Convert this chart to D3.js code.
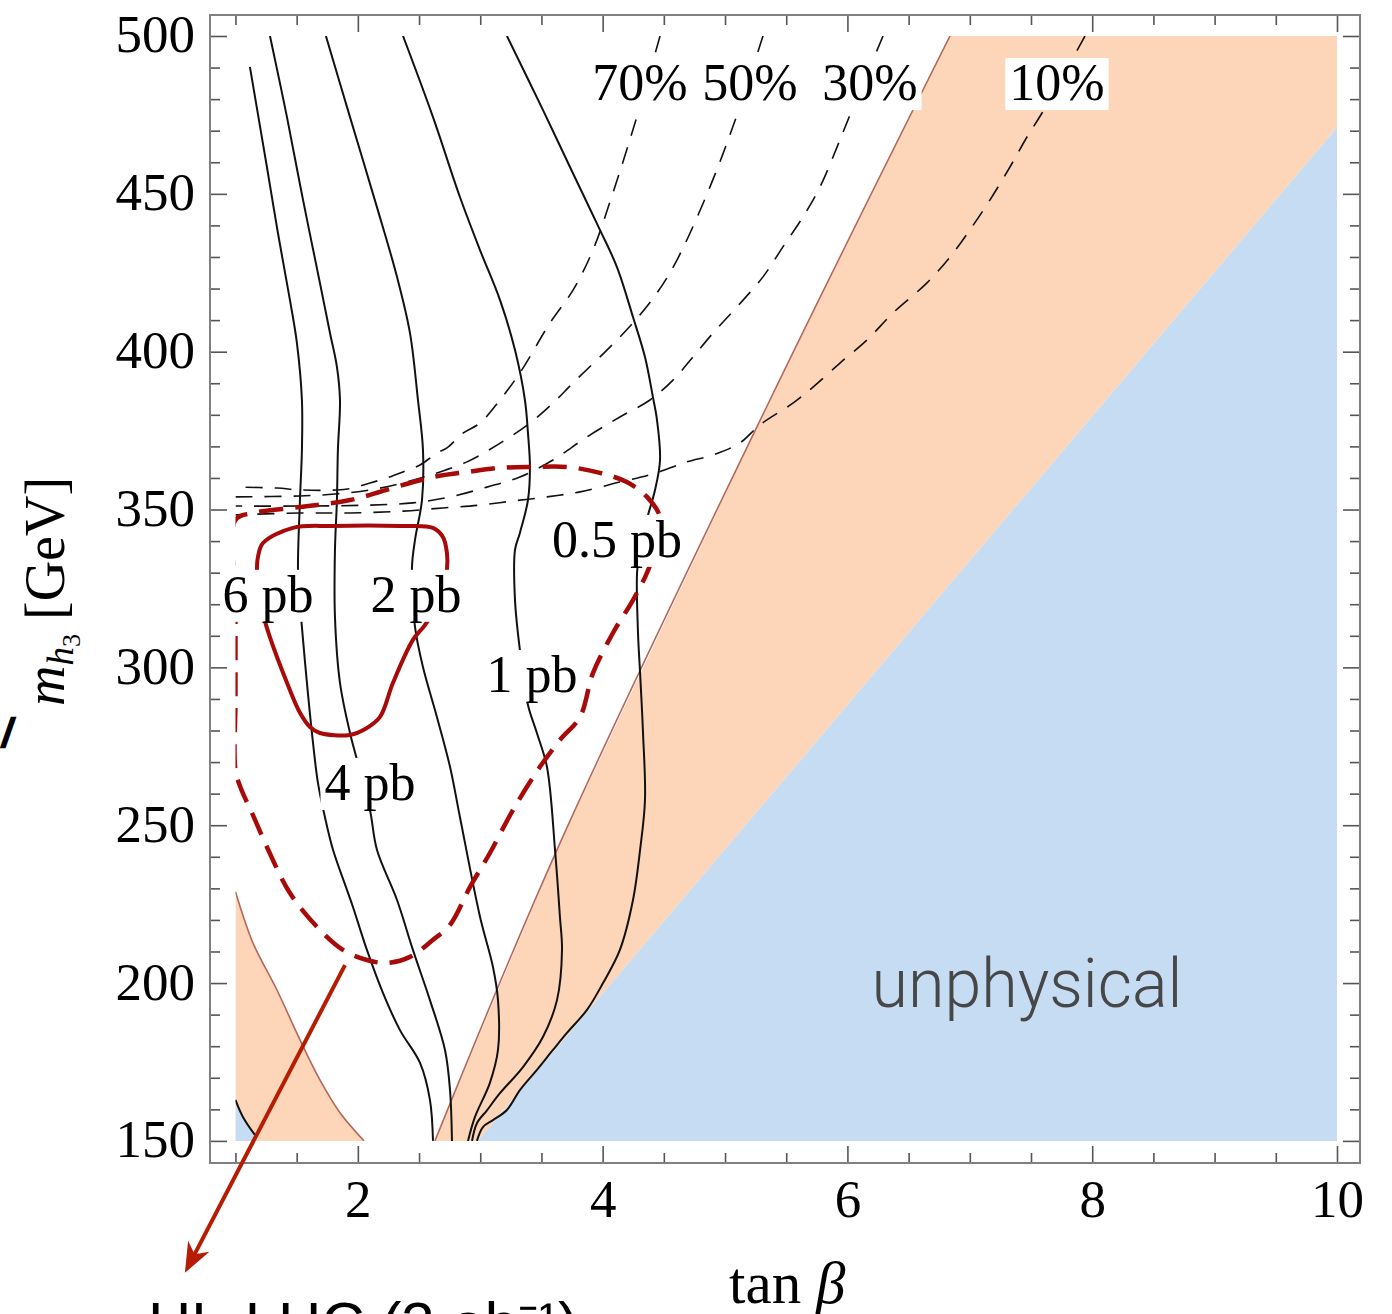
<!DOCTYPE html>
<html><head><meta charset="utf-8">
<script src="https://cdn.jsdelivr.net/npm/d3@7"></script>
<style>
html,body{margin:0;padding:0;background:#fff;overflow:hidden}
svg{display:block}
</style></head><body>
<svg id="chart" width="1392" height="1314"></svg>
<script>
// ---------- data: tan(beta) vs m_h3 [GeV] ----------
const xTickValues = [2, 4, 6, 8, 10];
const yTickValues = [150, 200, 250, 300, 350, 400, 450, 500];
const xTickLabels = ["2", "4", "6", "8", "10"];
const yTickLabels = ["150", "200", "250", "300", "350", "400", "450", "500"];

// cross-section contours
const sigmaNames = ["6 pb", "4 pb", "2 pb", "1 pb", "0.5 pb"];
const sigma6 = [[1.118,490.2],[1.257,458.5],[1.347,437.6],[1.445,416.4],[1.502,402.8],[1.543,384.7],[1.543,368.9],[1.527,353.0],[1.511,330.9],[1.527,321.3],[1.543,312.8],[1.584,295.1],[1.625,279.2],[1.674,263.4],[1.731,252.6],[1.797,242.2],[1.911,229.5],[1.960,224.1],[2.074,210.5],[2.205,196.9],[2.344,185.1],[2.508,174.7],[2.589,163.0],[2.614,150.0]];
const sigma4 = [[1.282,500],[1.421,474.3],[1.552,448.1],[1.690,421.8],[1.772,406.0],[1.829,395.2],[1.854,384.7],[1.837,368.9],[1.829,353.0],[1.813,337.2],[1.813,316.0],[1.854,295.1],[1.936,279.2],[1.993,270.7],[2.099,254.8],[2.156,242.2],[2.320,226.3],[2.450,210.5],[2.589,194.6],[2.712,178.8],[2.753,166.1],[2.769,150.0]];
const sigma2 = [[1.739,500],[1.936,474.3],[2.156,445.8],[2.320,423.7],[2.426,405.9],[2.491,384.7],[2.532,368.9],[2.524,353.0],[2.467,340.4],[2.442,331.5],[2.467,312.8],[2.532,300.1],[2.646,284.3],[2.753,268.5],[2.834,252.6],[2.998,221.0],[3.104,205.1],[3.145,194.6],[3.145,178.8],[3.079,168.4],[2.957,157.6],[2.900,150.0]];
const sigma1 = [[2.369,500],[2.614,474.3],[2.834,449.0],[2.998,432.2],[3.161,416.4],[3.284,400.5],[3.365,384.7],[3.390,374.2],[3.406,363.5],[3.390,353.0],[3.324,342.6],[3.284,337.2],[3.284,321.3],[3.324,305.5],[3.390,288.1],[3.463,279.2],[3.545,268.5],[3.611,242.2],[3.651,221.0],[3.668,210.5],[3.627,194.6],[3.512,182.9],[3.349,173.4],[3.161,165.1],[3.055,159.7],[2.973,155.6],[2.933,150.0]];
const sigma05 = [[3.218,500],[3.512,476.6],[3.733,458.5],[3.978,438.6],[4.117,426.8],[4.248,411.0],[4.346,398.3],[4.411,385.6],[4.444,378.4],[4.469,365.7],[4.428,356.2],[4.371,348.3],[4.306,338.8],[4.281,329.9],[4.289,310.9],[4.306,298.2],[4.330,279.2],[4.346,258.0],[4.306,242.2],[4.248,226.3],[4.141,210.5],[4.003,200.0],[3.872,191.5],[3.708,184.2],[3.594,178.8],[3.463,172.5],[3.324,166.1],[3.218,159.8],[3.104,156.6],[3.022,154.4],[2.973,150.0]];
const sigmaCorner = [[1.0,163.0],[1.061,157.6],[1.159,151.9]];

// branching-fraction contours (dashed)
const brNames = ["70%", "50%", "30%", "10%"];
const br70 = [[4.469,500],[4.289,475.6],[4.084,450.3],[3.921,432.2],[3.758,419.5],[3.570,409.1],[3.324,393.3],[3.161,384.7],[2.998,377.4],[2.859,374.2],[2.728,369.5],[2.646,367.9],[2.508,364.1],[2.369,361.9],[2.238,360.0],[2.099,358.4],[1.960,356.8],[1.829,356.2],[1.527,356.2],[1.339,356.8],[1.0,357.1]];
const br50 = [[5.310,500],[5.098,475.0],[4.877,452.2],[4.607,429.0],[4.444,418.6],[4.248,409.1],[4.035,400.5],[3.758,390.1],[3.594,383.7],[3.406,377.4],[3.137,370.4],[2.892,365.1],[2.646,361.6],[2.369,358.4],[2.099,356.2],[1.813,354.9],[1.527,354.3],[1.0,354.0]];
const br30 = [[6.291,500],[6.021,475.0],[5.915,464.8],[5.776,452.2],[5.637,442.7],[5.473,433.2],[5.310,423.7],[5.098,414.2],[4.902,405.9],[4.738,398.3],[4.575,391.0],[4.387,384.7],[4.141,379.3],[3.872,373.0],[3.594,365.7],[3.324,360.3],[3.055,357.1],[2.753,354.0],[2.450,352.1],[2.099,351.4],[1.527,351.1],[1.0,351.1]];
const br10 = [[7.941,500],[7.590,475.6],[7.467,468.0],[7.328,458.5],[7.165,448.1],[7.001,438.6],[6.838,430.0],[6.650,421.8],[6.373,412.3],[6.160,403.7],[5.939,396.4],[5.719,388.8],[5.555,383.7],[5.285,376.8],[5.122,371.1],[4.902,367.3],[4.689,365.1],[4.387,361.0],[4.141,358.7],[3.815,355.6],[3.545,354.0],[3.267,352.7],[2.998,351.4],[2.695,350.5],[2.369,349.5],[1.936,348.9],[1.527,348.9],[1.0,348.3]];

// reach contours (closed)
const reachDashed = [[1.0,346.7],[1.0,321.3],[1.0,289.7],[1.0,267.5],[1.04,262.1],[1.143,253.2],[1.257,243.1],[1.445,228.5],[1.666,217.8],[1.878,210.5],[2.074,207.3],[2.238,206.4],[2.426,208.3],[2.614,213.7],[2.753,218.4],[2.916,230.4],[3.079,241.2],[3.267,254.8],[3.488,268.5],[3.651,277.0],[3.815,284.3],[3.921,298.2],[4.084,310.9],[4.248,321.3],[4.362,329.9],[4.452,340.4],[4.469,347.6],[4.362,354.0],[4.198,358.7],[3.978,361.6],[3.708,363.5],[3.431,363.5],[3.161,363.2],[2.892,361.9],[2.614,360.3],[2.344,357.5],[1.936,353.0],[1.527,350.8],[1.143,348.9]];
const reachSolid = [[1.176,330.2],[1.184,335.0],[1.225,339.4],[1.470,344.2],[1.797,344.8],[2.344,344.8],[2.614,344.2],[2.695,341.3],[2.728,336.2],[2.728,330.9],[2.671,321.3],[2.548,313.4],[2.450,308.7],[2.287,295.1],[2.181,284.3],[2.074,280.8],[1.936,278.6],[1.690,279.2],[1.609,281.1],[1.527,285.6],[1.421,295.1],[1.257,312.5],[1.200,321.3]];

// shaded regions
const excludedEdge = [[2.63,150],[3.627,242.2],[5.367,384.7],[6.838,500]];
const unphysicalEdge = [[2.98,150],[10,471]];
const excludedLowEdge = [[1.0,228.9],[1.143,212.7],[1.339,197.8],[1.527,182.0],[1.690,169.3],[1.854,158.9],[2.05,150]];
const cornerPatch = [[1.0,150],[1.0,163.0],[1.061,157.6],[1.159,151.9],[1.18,150]];

// annotation arrow: from the dashed contour to the caption below
const arrowFrom = [1.895, 205.7];
const arrowTo = [0.587, 108.2];

// ---------- layout ----------
const svg = d3.select("#chart");
const x = d3.scaleLinear().domain([0.792, 10.188]).range([210, 1360]);
const y = d3.scaleLinear().domain([143.0, 506.65]).range([1163, 15]);
const X0 = 1, X1 = 10, Y0 = 150, Y1 = 500;

const SERIF = "'Liberation Serif','Times New Roman',serif";
const SANS = "'Liberation Sans',Arial,sans-serif";
const ORANGE = "#fdd6b9", BLUE = "#c6dcf2", EDGE = "#b4675c", RED = "#a80a0a";

svg.append("rect").attr("width", 1392).attr("height", 1314).attr("fill", "#fff");

svg.append("defs").append("clipPath").attr("id", "plotclip")
  .append("rect")
  .attr("x", x(X0)).attr("y", y(Y1))
  .attr("width", x(X1) - x(X0)).attr("height", y(Y0) - y(Y1));

const plot = svg.append("g").attr("clip-path", "url(#plotclip)");

const lin = d3.line().x(d => x(d[0])).y(d => y(d[1]));
const smooth = d3.line().x(d => x(d[0])).y(d => y(d[1])).curve(d3.curveCatmullRom.alpha(0.5));
const smoothClosed = d3.line().x(d => x(d[0])).y(d => y(d[1])).curve(d3.curveCatmullRomClosed.alpha(0.5));

// excluded (orange) band between the edge line and the unphysical wedge
const orangePoly = excludedEdge.concat([[X1, Y1], [X1, unphysicalEdge[1][1]]], [unphysicalEdge[0]]);
plot.append("path").attr("d", lin(orangePoly) + "Z").attr("fill", ORANGE);
// unphysical wedge
const bluePoly = unphysicalEdge.concat([[X1, Y0]]);
plot.append("path").attr("d", lin(bluePoly) + "Z").attr("fill", BLUE);
// lower-left excluded corner
const lowPoly = [[X0, Y0]].concat(excludedLowEdge);
plot.append("path").attr("d", lin(lowPoly) + "Z").attr("fill", ORANGE);
plot.append("path").attr("d", lin(cornerPatch) + "Z").attr("fill", BLUE);

plot.append("path").attr("d", smooth(excludedEdge)).attr("fill", "none").attr("stroke", EDGE).attr("stroke-width", 1.6);
plot.append("path").attr("d", smooth(excludedLowEdge)).attr("fill", "none").attr("stroke", EDGE).attr("stroke-width", 1.6);

// branching-fraction contours
[br70, br50, br30, br10].forEach(c => {
  plot.append("path").attr("d", smooth(c)).attr("fill", "none")
    .attr("stroke", "#111").attr("stroke-width", 1.6).attr("stroke-dasharray", "17,12");
});

// cross-section contours
[sigma6, sigma4, sigma2, sigma1, sigma05, sigmaCorner].forEach(c => {
  plot.append("path").attr("d", smooth(c)).attr("fill", "none")
    .attr("stroke", "#111").attr("stroke-width", 2);
});

// reach contours
plot.append("path").attr("d", smoothClosed(reachDashed)).attr("fill", "none")
  .attr("stroke", RED).attr("stroke-width", 4.5).attr("stroke-dasharray", "24,12");
plot.append("path").attr("d", smoothClosed(reachSolid)).attr("fill", "none")
  .attr("stroke", RED).attr("stroke-width", 4).attr("stroke-linejoin", "round");

// contour labels with white backing
const contourLabels = [
  {t: sigmaNames[0], x: 1.266, y: 317.6},
  {t: sigmaNames[2], x: 2.475, y: 317.6},
  {t: sigmaNames[1], x: 2.099, y: 258.0},
  {t: sigmaNames[3], x: 3.423, y: 292.2},
  {t: sigmaNames[4], x: 4.117, y: 335.0},
  {t: brNames[0], x: 4.305, y: 479.7},
  {t: brNames[1], x: 5.204, y: 479.7},
  {t: brNames[2], x: 6.184, y: 479.7},
  {t: brNames[3], x: 7.712, y: 479.7}
];
const labG = svg.append("g");
contourLabels.forEach(l => {
  const g = labG.append("g");
  const r = g.append("rect").attr("fill", "#fff");
  const t = g.append("text").attr("x", x(l.x)).attr("y", y(l.y))
    .attr("text-anchor", "middle").attr("font-family", SERIF).attr("font-size", 52)
    .attr("fill", "#000").text(l.t);
  const b = t.node().getBBox();
  r.attr("x", b.x - 4).attr("y", b.y + 4).attr("width", b.width + 8).attr("height", b.height - 5);
});

// unphysical region tag
svg.append("text").attr("x", x(7.467)).attr("y", y(192.4))
  .attr("text-anchor", "middle").attr("font-family", "Roboto, " + SANS)
  .attr("font-weight", 300).attr("font-size", 68).attr("fill", "#474747")
  .attr("textLength", 311).attr("lengthAdjust", "spacingAndGlyphs")
  .text("unphysical");

// ---------- frame and ticks ----------
const frame = svg.append("g");
const xMinor = d3.range(X0, X1 + 1e-9, 0.5).filter(v => !xTickValues.includes(v));
const yMinor = d3.range(Y0, Y1 + 1e-9, 10).filter(v => !yTickValues.includes(v));
const tickCol = "#555";

function tickAxis(gen, vals, len, tr) {
  const g = frame.append("g").attr("transform", tr)
    .call(gen.tickValues(vals).tickSize(-len).tickFormat(""));
  g.select(".domain").remove();
  g.selectAll(".tick line").attr("stroke", tickCol).attr("stroke-width", 1.6);
  return g;
}
const bottomY = 1163, topY = 15, leftX = 210, rightX = 1360;
tickAxis(d3.axisBottom(x), xMinor, 10, `translate(0,${bottomY})`);
tickAxis(d3.axisTop(x), xMinor, 10, `translate(0,${topY})`);
tickAxis(d3.axisTop(x), xTickValues, 17, `translate(0,${topY})`);
tickAxis(d3.axisLeft(y), yMinor, 10, `translate(${leftX},0)`);
tickAxis(d3.axisRight(y), yMinor, 10, `translate(${rightX},0)`);
tickAxis(d3.axisRight(y), yTickValues, 17, `translate(${rightX},0)`);

const xb = frame.append("g").attr("transform", `translate(0,${bottomY})`)
  .call(d3.axisBottom(x).tickValues(xTickValues).tickSize(-17).tickFormat((d, i) => xTickLabels[i]));
xb.select(".domain").remove();
xb.selectAll(".tick line").attr("stroke", tickCol).attr("stroke-width", 1.6);
xb.selectAll(".tick text").attr("y", 54).attr("dy", 0)
  .attr("font-family", SERIF).attr("font-size", 53).attr("fill", "#000");

const yl = frame.append("g").attr("transform", `translate(${leftX},0)`)
  .call(d3.axisLeft(y).tickValues(yTickValues).tickSize(-17).tickFormat((d, i) => yTickLabels[i]));
yl.select(".domain").remove();
yl.selectAll(".tick line").attr("stroke", tickCol).attr("stroke-width", 1.6);
yl.selectAll(".tick text").attr("x", -15).attr("dy", 16)
  .attr("font-family", SERIF).attr("font-size", 53).attr("fill", "#000");

frame.append("rect").attr("x", leftX).attr("y", topY)
  .attr("width", rightX - leftX).attr("height", bottomY - topY)
  .attr("fill", "none").attr("stroke", "#808080").attr("stroke-width", 2);

// ---------- axis titles ----------
const xt = svg.append("text").attr("x", (x(X0) + x(X1)) / 2 + 1).attr("y", 1303)
  .attr("text-anchor", "middle").attr("font-family", SERIF).attr("font-size", 59).attr("fill", "#000");
xt.append("tspan").text("tan ");
xt.append("tspan").attr("font-style", "italic").text("β");

const yt = svg.append("text")
  .attr("transform", `translate(64,${(y(Y0) + y(Y1)) / 2 + 3}) rotate(-90)`)
  .attr("text-anchor", "middle").attr("font-family", SERIF).attr("font-size", 56).attr("fill", "#000");
yt.append("tspan").attr("font-style", "italic").text("m");
yt.append("tspan").attr("font-style", "italic").attr("font-size", 37).attr("dy", 9).text("h");
yt.append("tspan").attr("font-size", 26).attr("dy", 7).text("3");
yt.append("tspan").attr("dy", -16).text(" [GeV]");

// stray stroke of a neighbouring label at the left edge
svg.append("text").attr("x", 2).attr("y", 747)
  .attr("font-family", SERIF).attr("font-weight", "bold").attr("font-size", 44)
  .attr("fill", "#000").attr("stroke", "#000").attr("stroke-width", 2.5)
  .text("/");

// ---------- annotation arrow and caption ----------
const ax0 = x(arrowFrom[0]), ay0 = y(arrowFrom[1]), ax1 = x(arrowTo[0]), ay1 = y(arrowTo[1]);
const len = Math.hypot(ax1 - ax0, ay1 - ay0);
const ux = (ax1 - ax0) / len, uy = (ay1 - ay0) / len, nx = -uy, ny = ux;
const AR = "#b51c02";
svg.append("line").attr("x1", ax0).attr("y1", ay0)
  .attr("x2", ax1 - ux * 20).attr("y2", ay1 - uy * 20)
  .attr("stroke", AR).attr("stroke-width", 4);
const hl = 30, hw = 12, notch = 21;
svg.append("path").attr("fill", AR).attr("d",
  `M${ax1},${ay1} L${ax1 - ux * hl + nx * hw},${ay1 - uy * hl + ny * hw} ` +
  `L${ax1 - ux * notch},${ay1 - uy * notch} L${ax1 - ux * hl - nx * hw},${ay1 - uy * hl - ny * hw} Z`);

svg.append("text").attr("x", 148).attr("y", 1344)
  .attr("font-family", SANS).attr("font-size", 60).attr("fill", "#000")
  .text("HL-LHC (3 ab⁻¹)");
</script>
</body></html>
